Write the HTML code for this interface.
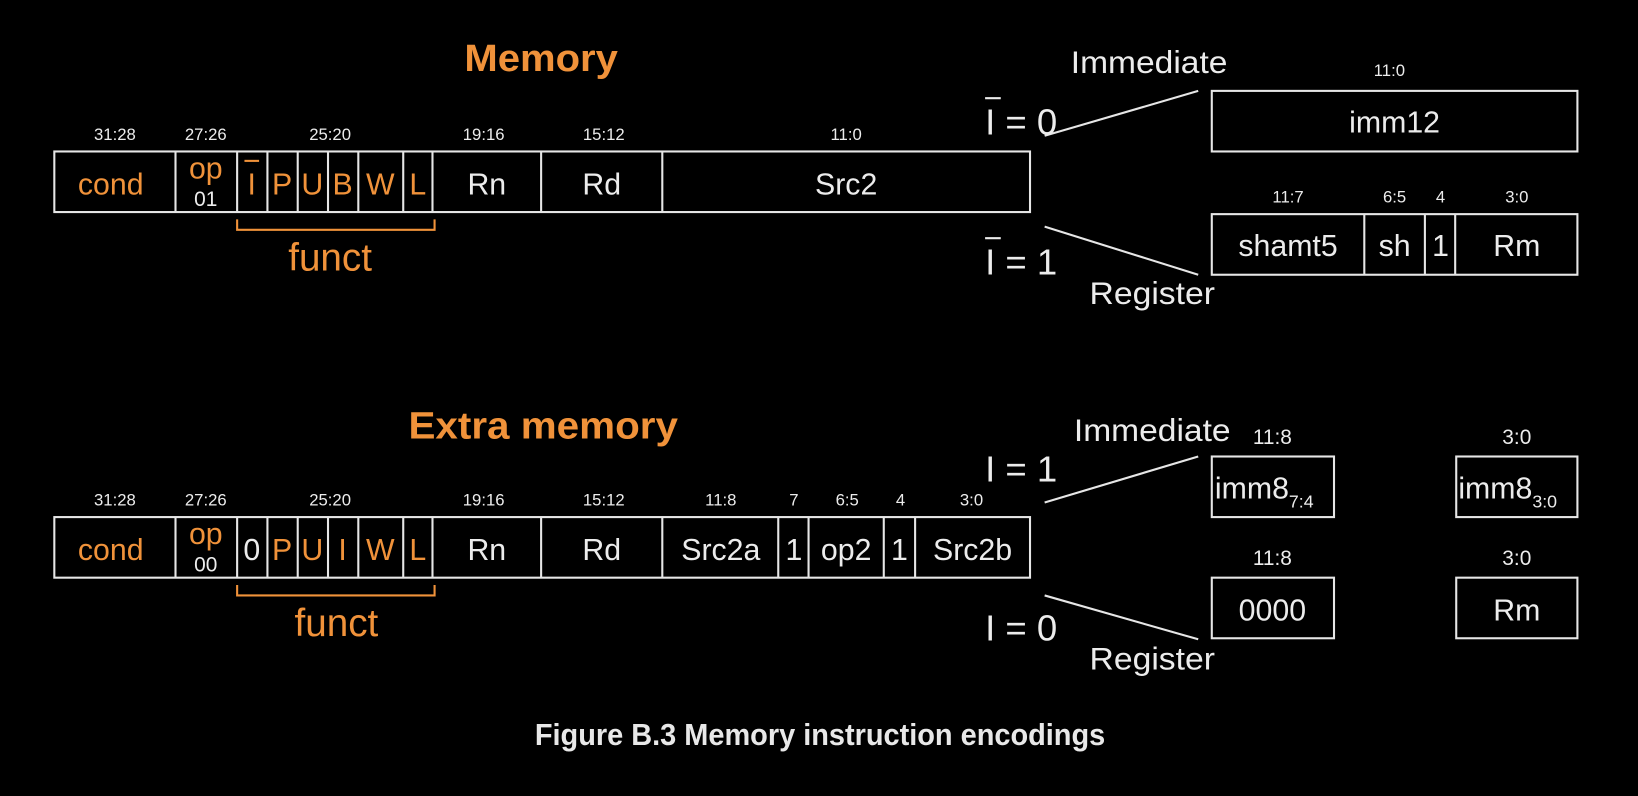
<!DOCTYPE html>
<html><head><meta charset="utf-8"><style>
html,body{margin:0;padding:0;background:#000;}
svg{display:block}
text{font-family:"Liberation Sans",sans-serif;}
</style></head><body>
<svg width="1638" height="796" viewBox="0 0 1568 762" preserveAspectRatio="none" xmlns="http://www.w3.org/2000/svg">
<rect width="1568" height="762" fill="#000"/>
<g fill="none" stroke="#e6e6e6" stroke-width="2">
<rect x="52" y="145" width="934" height="58"/>
<path d="M168 145V203M227 145V203M256 145V203M285 145V203M314 145V203M343 145V203M386 145V203M414 145V203M518 145V203M634 145V203"/>
<rect x="52" y="495" width="934" height="58"/>
<path d="M168 495V553M227 495V553M256 495V553M285 495V553M314 495V553M343 495V553M386 495V553M414 495V553M518 495V553M634 495V553M745 495V553M774 495V553M846 495V553M876 495V553"/>
<rect x="1160" y="87" width="350" height="58"/>
<rect x="1160" y="205" width="350" height="58"/>
<path d="M1306 205V263M1364 205V263M1393 205V263"/>
<rect x="1160" y="437" width="117" height="58"/>
<rect x="1394" y="437" width="116" height="58"/>
<rect x="1160" y="553" width="117" height="58"/>
<rect x="1394" y="553" width="116" height="58"/>
<path d="M1000 130L1147 87M1000 217L1147 263M1000 481L1147 437M1000 570L1147 612"/>
</g>
<g fill="none" stroke="#f0923a" stroke-width="2">
<path d="M227 210V220H416V210M227 560V570H416V560"/>
<path d="M234 154H248" />
</g>
<g fill="#f0923a" text-anchor="middle">
<text x="518" y="68" font-size="36" font-weight="bold" textLength="147" lengthAdjust="spacingAndGlyphs">Memory</text>
<text x="520" y="420" font-size="36" font-weight="bold" textLength="258" lengthAdjust="spacingAndGlyphs">Extra memory</text>
<g font-size="29">
<text x="106" y="186">cond</text><text x="197" y="171">op</text>
<text x="241" y="186">I</text><text x="270" y="186">P</text><text x="299" y="186">U</text><text x="328" y="186">B</text><text x="364" y="186">W</text><text x="400" y="186">L</text>
<text x="106" y="536">cond</text><text x="197" y="521">op</text>
<text x="270" y="536">P</text><text x="299" y="536">U</text><text x="328" y="536">I</text><text x="364" y="536">W</text><text x="400" y="536">L</text>
</g>
<text x="316" y="259" font-size="37">funct</text>
<text x="322" y="609" font-size="37">funct</text>
</g>
<g fill="#ececec" text-anchor="middle" font-size="16">
<text x="110" y="134">31:28</text><text x="197" y="134">27:26</text><text x="316" y="134">25:20</text><text x="463" y="134">19:16</text><text x="578" y="134">15:12</text><text x="810" y="134">11:0</text>
<text x="110" y="484">31:28</text><text x="197" y="484">27:26</text><text x="316" y="484">25:20</text><text x="463" y="484">19:16</text><text x="578" y="484">15:12</text><text x="690" y="484">11:8</text><text x="760" y="484">7</text><text x="811" y="484">6:5</text><text x="862" y="484">4</text><text x="930" y="484">3:0</text>
<text x="1330" y="73">11:0</text>
<text x="1233" y="194">11:7</text><text x="1335" y="194">6:5</text><text x="1379" y="194">4</text><text x="1452" y="194">3:0</text>
</g>
<g fill="#ececec" text-anchor="middle" font-size="20">
<text x="1218" y="425">11:8</text><text x="1452" y="425">3:0</text>
<text x="1218" y="541">11:8</text><text x="1452" y="541">3:0</text>
<text x="197" y="197">01</text><text x="197" y="547">00</text>
</g>
<g fill="#ececec" text-anchor="middle" font-size="29">
<text x="466" y="186">Rn</text><text x="576" y="186">Rd</text><text x="810" y="186">Src2</text>
<text x="241" y="536">0</text>
<text x="466" y="536">Rn</text><text x="576" y="536">Rd</text><text x="690" y="536">Src2a</text><text x="760" y="536">1</text><text x="810" y="536">op2</text><text x="861" y="536">1</text><text x="931" y="536">Src2b</text>
<text x="1335" y="127">imm12</text>
<text x="1233" y="245">shamt5</text><text x="1335" y="245">sh</text><text x="1379" y="245">1</text><text x="1452" y="245">Rm</text>
<text x="1218" y="594">0000</text><text x="1452" y="594">Rm</text>
</g>
<g fill="#ececec" font-size="29">
<text x="1163" y="477">imm8<tspan font-size="17" dy="9">7:4</tspan></text>
<text x="1396" y="477">imm8<tspan font-size="17" dy="9">3:0</tspan></text>
</g>
<g fill="#ececec" font-size="35">
<text x="943" y="129">I = 0</text><text x="943" y="263">I = 1</text>
<text x="943" y="461">I = 1</text><text x="943" y="613">I = 0</text>
</g>
<path d="M943 94H958M943 228H958" stroke="#ececec" stroke-width="2"/>
<g fill="#ececec" font-size="30">
<text x="1025" y="70" textLength="150" lengthAdjust="spacingAndGlyphs">Immediate</text><text x="1043" y="291" textLength="120" lengthAdjust="spacingAndGlyphs">Register</text>
<text x="1028" y="422" textLength="150" lengthAdjust="spacingAndGlyphs">Immediate</text><text x="1043" y="641" textLength="120" lengthAdjust="spacingAndGlyphs">Register</text>
</g>
<text x="512" y="713" font-size="29" font-weight="bold" fill="#e8e8e8" textLength="546" lengthAdjust="spacingAndGlyphs">Figure B.3 Memory instruction encodings</text>
</svg>
</body></html>
